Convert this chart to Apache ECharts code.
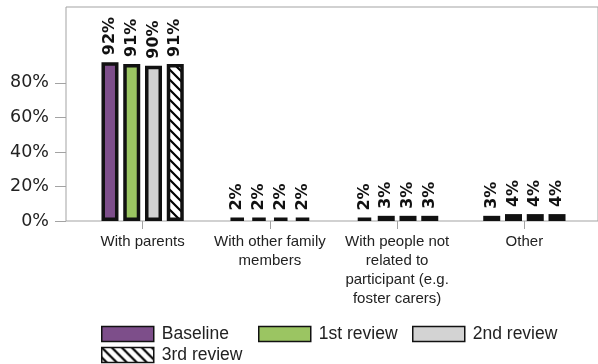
<!DOCTYPE html>
<html><head><meta charset="utf-8">
<script src="https://cdn.jsdelivr.net/npm/echarts@6/dist/echarts.min.js"></script>
<style>html,body{margin:0;padding:0;background:#fff}#c{width:598px;height:364px}</style>
</head><body><div id="c"></div>
<script>
const categories = ['With parents', 'With other family\nmembers', 'With people not\nrelated to\nparticipant (e.g.\nfoster carers)', 'Other'];
const seriesNames = ['Baseline', '1st review', '2nd review', '3rd review'];
const baseline = [92, 2, 2, 3];
const review1 = [91, 2, 3, 4];
const review2 = [90, 2, 3, 4];
const review3 = [91, 2, 3, 4];
const yTicks = [0, 20, 40, 60, 80];

function stripes() {
  const c = document.createElement('canvas');
  c.width = 10; c.height = 10;
  const g = c.getContext('2d');
  g.fillStyle = '#fff'; g.fillRect(0, 0, 10, 10);
  g.strokeStyle = '#000'; g.lineWidth = 2.2;
  g.beginPath();
  g.moveTo(-2, -2); g.lineTo(12, 12);
  g.moveTo(-2, 8); g.lineTo(2, 12);
  g.moveTo(8, -2); g.lineTo(12, 2);
  g.stroke();
  return c;
}

const colors = ['#7d4e8a', '#9bc562', '#d3d3d3', {image: stripes(), repeat: 'repeat'}];
const values = [baseline, review1, review2, review3];

const chart = echarts.init(document.getElementById('c'), null, {renderer: 'canvas'});
const legendLeft = [101, 258, 412, 101];
const legendTop = [325, 325, 325, 346];

chart.setOption({
  animation: false,
  grid: [
    {left: 79, right: 10, top: 7, bottom: 143},
    {left: 66, right: -2, top: 7, bottom: 143, show: true, borderColor: '#a3a3a3', borderWidth: 1}
  ],
  xAxis: [
    {type: 'category', data: categories, gridIndex: 0,
     axisLine: {show: false},
     axisTick: {show: true, alignWithLabel: true, length: 8, lineStyle: {color: '#a3a3a3'}},
     axisLabel: {fontFamily: 'Liberation Sans', fontSize: 15, color: '#222', lineHeight: 19, margin: 11, interval: 0}},
    {type: 'value', gridIndex: 1, show: false, min: 0, max: 1}
  ],
  yAxis: [
    {type: 'value', gridIndex: 0, min: 0, max: 124, offset: 13,
     axisLine: {show: false},
     splitLine: {show: false},
     axisTick: {show: true, length: 11, customValues: yTicks, lineStyle: {color: '#a3a3a3'}},
     axisLabel: {customValues: yTicks, formatter: '{value}%', fontFamily: 'DejaVu Sans', fontSize: 17.5, color: '#222', margin: 17}},
    {type: 'value', gridIndex: 1, show: false, min: 0, max: 1}
  ],
  legend: seriesNames.map((n, i) => ({
    data: [n], left: legendLeft[i], top: legendTop[i], itemWidth: 52, itemHeight: 15, padding: 0,
    icon: 'rect',
    itemStyle: {borderWidth: 1.5, borderColor: '#111'},
    textStyle: {fontFamily: 'Liberation Sans', fontSize: 17.5, color: '#222', padding: [0, 0, 0, 3]}
  })),
  series: seriesNames.map((n, i) => ({
    name: n, type: 'bar', xAxisIndex: 0, yAxisIndex: 0,
    data: values[i], barWidth: 17, barGap: '28%',
    itemStyle: {color: colors[i], borderColor: '#111', borderWidth: 3.5},
    label: {show: true, position: 'top', rotate: 90, align: 'left', verticalAlign: 'middle', distance: 7,
            formatter: '{c}%', fontFamily: 'DejaVu Sans', fontWeight: 'bold', fontSize: 16, color: '#111'}
  }))
});
</script></body></html>
